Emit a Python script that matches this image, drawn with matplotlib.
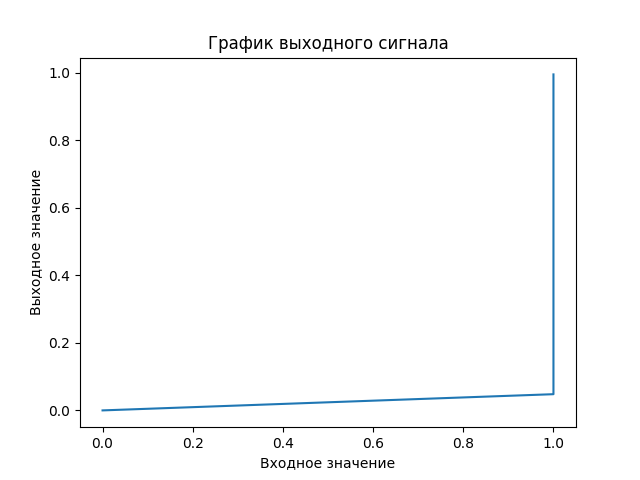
import matplotlib
matplotlib.use("Agg")
import matplotlib.pyplot as plt

# input / output values
x_in = [0.0, 1.0, 1.0]
y_out = [0.0, 0.048, 0.995]

plt.figure(figsize=(6.4, 4.8), dpi=100)
plt.plot(x_in, y_out)
plt.title("График выходного сигнала")
plt.xlabel("Входное значение")
plt.ylabel("Выходное значение")
plt.savefig("out.png")
